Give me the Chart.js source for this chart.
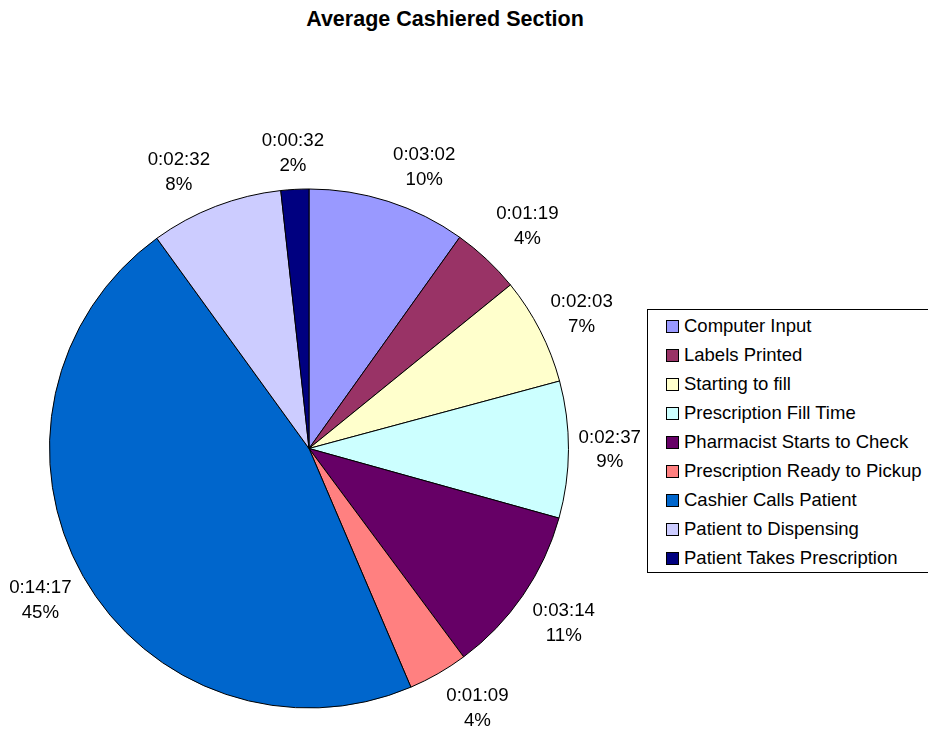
<!DOCTYPE html>
<html>
<head>
<meta charset="utf-8">
<script src="https://cdn.jsdelivr.net/npm/chart.js@4.4.1/dist/chart.umd.min.js"></script>
<style>
    html, body { margin: 0; padding: 0; background: #fff; }
    #wrap { position: relative; width: 928px; height: 730px; overflow: hidden; font-family: "Liberation Sans", Arial, sans-serif; color: #000; }
    #chart-title { position: absolute; left: 0; top: 7px; width: 890px; text-align: center; font-weight: bold; font-size: 21.5px; }
    #chart-pie { position: absolute; left: 0; top: 0; }
    #legenda { position: absolute; left: 647px; top: 309px; width: 300px; height: 264px; border: 1px solid #000; background: #fff; padding-top: 1px; box-sizing: border-box; }
    .leg-item { height: 29px; line-height: 29px; font-size: 18.5px; white-space: nowrap; }
    .leg-box { display: inline-block; width: 11px; height: 11px; border: 1px solid #000; margin-left: 18px; margin-right: 5px; vertical-align: -1px; }
</style>
</head>
<body>
<div id="wrap">
    <div id="chart-title">Average Cashiered Section</div>
    <canvas id="chart-pie" width="928" height="730"></canvas>
    <div id="legenda"></div>
</div>
<script>
// etapas do atendimento, tempo médio em segundos
const etapas = [
    'Computer Input',
    'Labels Printed',
    'Starting to fill',
    'Prescription Fill Time',
    'Pharmacist Starts to Check',
    'Prescription Ready to Pickup',
    'Cashier Calls Patient',
    'Patient to Dispensing',
    'Patient Takes Prescription'
];
const tempoMedioSeg = [182, 79, 123, 157, 194, 69, 857, 152, 32];
const percentuais = [10, 4, 7, 9, 11, 4, 45, 8, 2];
const cores = ['#9999FF', '#993366', '#FFFFCC', '#CCFFFF', '#660066', '#FF8080', '#0066CC', '#CCCCFF', '#000080'];

// ajuste manual de alguns rótulos (px)
const ajusteRotulos = [[23, 7], [7, 3], [-2, 6], [0, 0], [0, 0], [16, -6], [0, 0], [-21, 7], [0, 0]];

const FONTE = '"Liberation Sans", Arial, sans-serif';

function formatarTempo(seg) {
    const h = Math.floor(seg / 3600);
    const m = Math.floor((seg % 3600) / 60);
    const s = seg % 60;
    return `${h}:${String(m).padStart(2, '0')}:${String(s).padStart(2, '0')}`;
}

// rótulos fora da pizza: tempo + percentual
const rotulosFatias = {
    id: 'rotulosFatias',
    afterDatasetsDraw(chart, args, opts) {
        const { ctx } = chart;
        const meta = chart.getDatasetMeta(0);
        const lh = opts.lineHeight;
        ctx.save();
        ctx.font = opts.font;
        ctx.fillStyle = '#000';
        ctx.textAlign = 'center';
        ctx.textBaseline = 'middle';
        meta.data.forEach((arc, i) => {
            const { x, y, startAngle, endAngle, outerRadius } =
                arc.getProps(['x', 'y', 'startAngle', 'endAngle', 'outerRadius'], true);
            const mid = (startAngle + endAngle) / 2;
            const linhas = [formatarTempo(tempoMedioSeg[i]), `${percentuais[i]}%`];
            const w = Math.max(...linhas.map(l => ctx.measureText(l).width));
            const h = linhas.length * lh;
            const cos = Math.cos(mid), sin = Math.sin(mid);
            const d = outerRadius + opts.gap + Math.abs(w / 2 * cos) + Math.abs(h / 2 * sin);
            const [nx, ny] = ajusteRotulos[i] || [0, 0];
            const cx = x + d * cos + nx;
            const cy = y + d * sin + ny;
            linhas.forEach((linha, j) => {
                ctx.fillText(linha, cx, cy + (j - (linhas.length - 1) / 2) * lh);
            });
        });
        ctx.restore();
    }
};

const ctx = document.getElementById('chart-pie').getContext('2d');
new Chart(ctx, {
    type: 'pie',
    data: {
        labels: etapas,
        datasets: [{
            data: tempoMedioSeg,
            backgroundColor: cores,
            borderColor: '#000',
            borderWidth: 1,
            hoverOffset: 0
        }]
    },
    options: {
        responsive: false,
        animation: false,
        events: [],
        layout: { padding: { left: 49, right: 359, top: 188, bottom: 21 } },
        plugins: {
            legend: { display: false },
            title: { display: false },
            tooltip: { enabled: false },
            rotulosFatias: { font: `18.7px ${FONTE}`, lineHeight: 24.5, gap: 10 }
        }
    },
    plugins: [rotulosFatias]
});

document.getElementById('legenda').innerHTML = etapas.map((nome, i) => `
    <div class="leg-item"><span class="leg-box" style="background:${cores[i]}"></span>${nome}</div>
`).join('');
</script>
</body>
</html>
